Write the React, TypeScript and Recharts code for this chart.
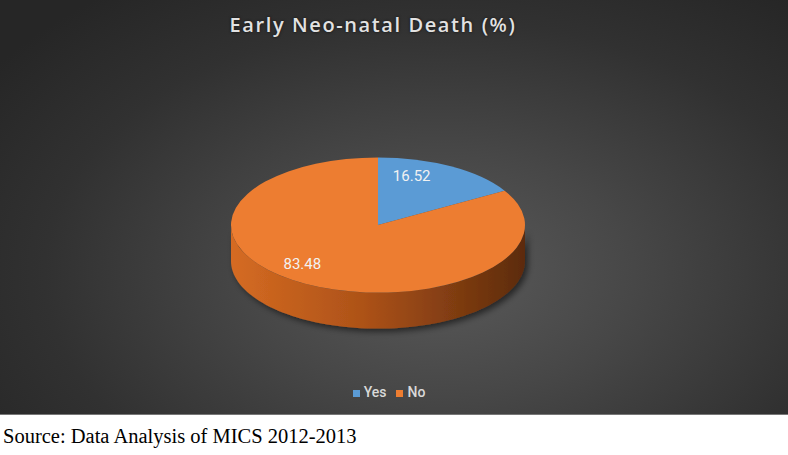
import React from 'react';
import { PieChart, Pie, Cell, Legend } from 'recharts';

const categories = ['Yes', 'No'];
const values = [16.52, 83.48];
const colors = ['#5b9bd5', '#ed7d31'];
const sideColors = [
  ['#4a86bd', '#2f5f8c', '#1f3f5e'],
  ['#d56b22', '#ad5218', '#5c2b0c'],
];

const data = categories.map((name, i) => ({ name, value: values[i] }));

// 3d look: squash the circle into an ellipse and extrude it
const TILT = 0.46;
const DEPTH = 36;
const RAD = Math.PI / 180;

const pt = (cx: number, cy: number, r: number, deg: number, dy = 0) => [
  cx + r * Math.cos(deg * RAD),
  cy - r * TILT * Math.sin(deg * RAD) + dy,
];

const TopFace = (props: any) => {
  const { cx, cy, outerRadius: r, startAngle, endAngle, fill } = props;
  const [x1, y1] = pt(cx, cy, r, startAngle);
  const [x2, y2] = pt(cx, cy, r, endAngle);
  const large = Math.abs(startAngle - endAngle) > 180 ? 1 : 0;
  const sweep = startAngle > endAngle ? 1 : 0;
  const d = `M${cx},${cy} L${x1},${y1} A${r},${r * TILT} 0 ${large} ${sweep} ${x2},${y2} Z`;
  return <path d={d} fill={fill} />;
};

const SideFace = (props: any) => {
  const { cx, cy, outerRadius: r, startAngle, endAngle, index } = props;
  const lo = Math.min(startAngle, endAngle);
  const hi = Math.max(startAngle, endAngle);
  const shade = sideColors[index] || sideColors[1];
  const id = `side-${index}`;
  const paths: any[] = [];
  // only the front half (sin < 0) of the rim is visible
  for (const base of [-360, 0, 360]) {
    const a = Math.max(lo, base - 180);
    const b = Math.min(hi, base);
    if (b <= a) continue;
    const top: number[][] = [];
    const bottom: number[][] = [];
    const n = 80;
    for (let k = 0; k <= n; k++) {
      const t = a + ((b - a) * k) / n;
      top.push(pt(cx, cy, r, t));
      bottom.push(pt(cx, cy, r, t, DEPTH));
    }
    bottom.reverse();
    const d =
      'M' + top.map((p) => p.join(',')).join(' L') +
      ' L' + bottom.map((p) => p.join(',')).join(' L') + ' Z';
    paths.push(<path key={base} d={d} fill={`url(#${id})`} filter="url(#pieShadow)" />);
  }
  return (
    <g>
      <defs>
        <linearGradient id={id} gradientUnits="userSpaceOnUse" x1={cx - r} y1={0} x2={cx + r} y2={0}>
          <stop offset="0" stopColor={shade[0]} />
          <stop offset="0.45" stopColor={shade[1]} />
          <stop offset="1" stopColor={shade[2]} />
        </linearGradient>
        <filter id="pieShadow" x="-20%" y="-20%" width="140%" height="160%">
          <feDropShadow dx="3" dy="3" stdDeviation="3" floodColor="#000" floodOpacity="0.55" />
        </filter>
      </defs>
      {paths}
    </g>
  );
};

const renderLabel = (props: any) => {
  const { cx, cy, midAngle, outerRadius, value } = props;
  const [x, y] = pt(cx, cy, outerRadius * 0.75, midAngle);
  return (
    <text
      x={x - 21}
      y={y - 5}
      fill="#f2f2f2"
      textAnchor="middle"
      dominantBaseline="central"
      fontSize={15}
      fontFamily="Roboto"
    >
      {Number(value).toFixed(2)}
    </text>
  );
};

const App = () => {
  return (
    <div style={{ position: 'absolute', left: 0, top: 0, width: 788, height: 455, background: '#fff' }}>
      <div
        style={{
          position: 'absolute',
          left: 0,
          top: 0,
          width: 788,
          height: 414,
          background:
            'radial-gradient(ellipse 70% 85% at 56% 66%, #5a5a5a 0%, #474747 35%, #313131 72%, #262626 100%)',
          borderBottom: '1px solid #777',
        }}
      >
        <div
          style={{
            position: 'absolute',
            left: 0,
            width: 746,
            top: 11,
            textAlign: 'center',
            color: '#e2e2e2',
            fontFamily: 'Open Sans',
            fontWeight: 600,
            fontSize: 20,
            letterSpacing: 1.6,
            textShadow: '0 0 3px rgba(0,0,0,0.7)',
          }}
        >
          Early Neo-natal Death (%)
        </div>
        <PieChart width={788} height={414}>
          <Pie
            data={data}
            dataKey="value"
            nameKey="name"
            cx={373}
            cy={220}
            outerRadius={147}
            startAngle={90}
            endAngle={-270}
            isAnimationActive={false}
            legendType="none"
            shape={SideFace}
            stroke="none"
          >
            {data.map((d, i) => (
              <Cell key={d.name} fill={colors[i]} />
            ))}
          </Pie>
          <Pie
            data={data}
            dataKey="value"
            nameKey="name"
            cx={373}
            cy={220}
            outerRadius={147}
            startAngle={90}
            endAngle={-270}
            isAnimationActive={false}
            shape={TopFace}
            label={renderLabel}
            labelLine={false}
            stroke="none"
          >
            {data.map((d, i) => (
              <Cell key={d.name} fill={colors[i]} />
            ))}
          </Pie>
          <Legend
            verticalAlign="bottom"
            iconType="square"
            iconSize={7}
            itemSorter={(item: any) => categories.indexOf(item.value)}
            wrapperStyle={{ bottom: 14, fontFamily: 'Roboto', fontSize: 14, fontWeight: 500 }}
            formatter={(v: any) => <span style={{ color: '#d9d9d9' }}>{v}</span>}
          />
        </PieChart>
      </div>
      <div
        style={{
          position: 'absolute',
          left: 3,
          top: 425,
          fontFamily: 'Liberation Serif',
          fontSize: 20.5,
          color: '#000',
        }}
      >
        Source: Data Analysis of MICS 2012-2013
      </div>
    </div>
  );
};

export default App;
